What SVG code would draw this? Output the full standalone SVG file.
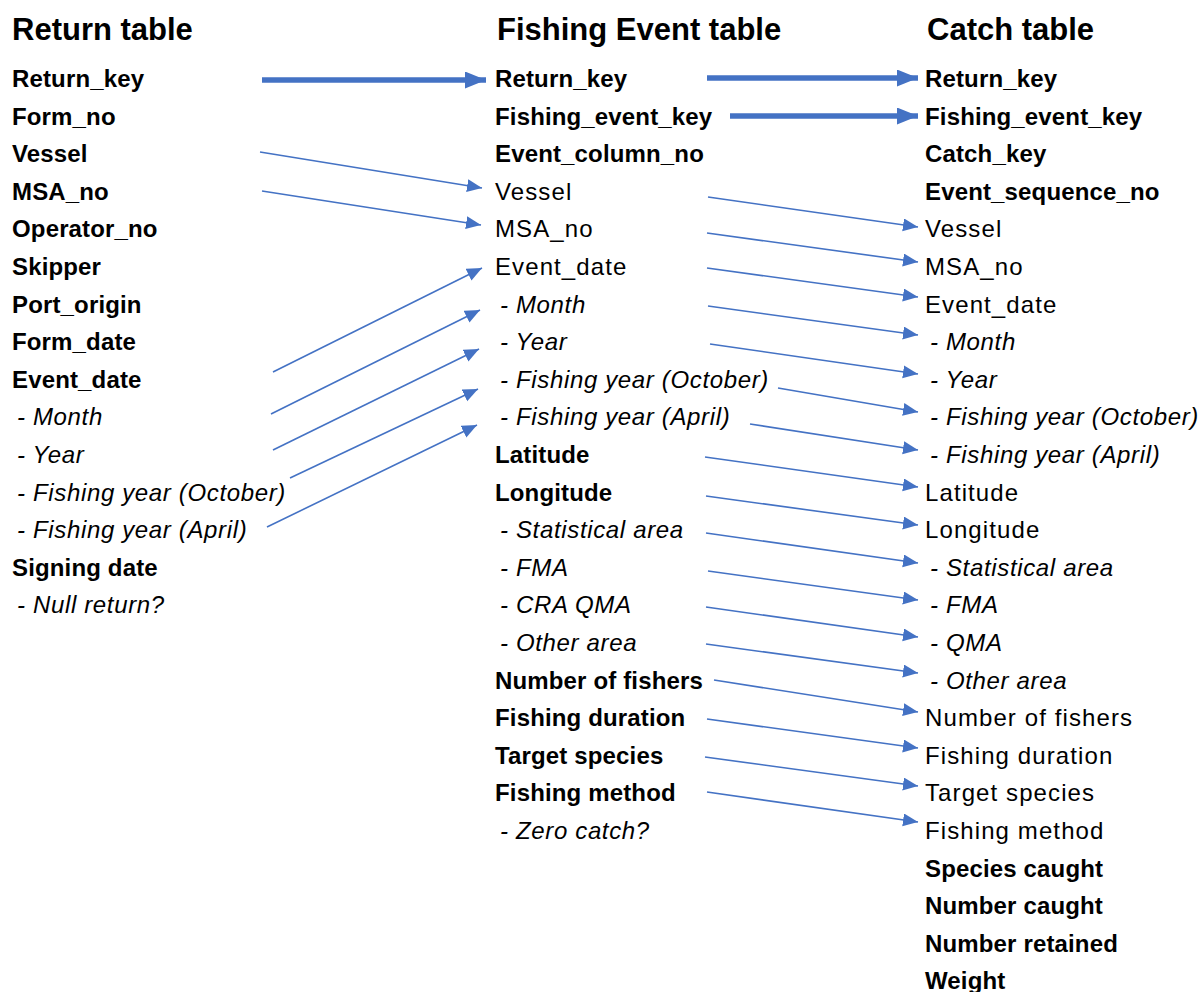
<svg xmlns="http://www.w3.org/2000/svg" width="1201" height="992" viewBox="0 0 1201 992">
<style>
text{font-family:"Liberation Sans",Arial,sans-serif;font-size:24px;fill:#000;letter-spacing:1.1px}
.t{font-size:31px;font-weight:bold;letter-spacing:0}
.b{font-weight:bold;letter-spacing:0.15px}
.i{font-style:italic;letter-spacing:0.65px}
.thin{stroke:#4472C4;stroke-width:1.6;fill:none}
.thick{stroke:#4472C4;stroke-width:5.5;fill:none}
</style>
<defs>
<marker id="ah" markerUnits="userSpaceOnUse" markerWidth="16" markerHeight="14" refX="15" refY="6.5" orient="auto"><path d="M0,0 L15,6.5 L0,13 z" fill="#4472C4"/></marker>
<marker id="ahb" markerUnits="userSpaceOnUse" markerWidth="22" markerHeight="18" refX="21" refY="8.5" orient="auto"><path d="M0,0 L21,8.5 L0,17 z" fill="#4472C4"/></marker>
</defs>
<g id="return-table">
<text class="t" x="12" y="40">Return table</text>
<text class="b" x="12" y="87">Return_key</text>
<text class="b" x="12" y="124.6">Form_no</text>
<text class="b" x="12" y="162.2">Vessel</text>
<text class="b" x="12" y="199.8">MSA_no</text>
<text class="b" x="12" y="237.4">Operator_no</text>
<text class="b" x="12" y="275">Skipper</text>
<text class="b" x="12" y="312.6">Port_origin</text>
<text class="b" x="12" y="350.2">Form_date</text>
<text class="b" x="12" y="387.8">Event_date</text>
<text class="i" x="17" y="425.4">- Month</text>
<text class="i" x="17" y="463">- Year</text>
<text class="i" x="17" y="500.6">- Fishing year (October)</text>
<text class="i" x="17" y="538.2">- Fishing year (April)</text>
<text class="b" x="12" y="575.8">Signing date</text>
<text class="i" x="17" y="613.4">- Null return?</text>
</g>
<g id="fishing-event-table">
<text class="t" x="497" y="40">Fishing Event table</text>
<text class="b" x="495" y="87">Return_key</text>
<text class="b" x="495" y="124.6">Fishing_event_key</text>
<text class="b" x="495" y="162.2">Event_column_no</text>
<text x="495" y="199.8">Vessel</text>
<text x="495" y="237.4">MSA_no</text>
<text x="495" y="275">Event_date</text>
<text class="i" x="500" y="312.6">- Month</text>
<text class="i" x="500" y="350.2">- Year</text>
<text class="i" x="500" y="387.8">- Fishing year (October)</text>
<text class="i" x="500" y="425.4">- Fishing year (April)</text>
<text class="b" x="495" y="463">Latitude</text>
<text class="b" x="495" y="500.6">Longitude</text>
<text class="i" x="500" y="538.2">- Statistical area</text>
<text class="i" x="500" y="575.8">- FMA</text>
<text class="i" x="500" y="613.4">- CRA QMA</text>
<text class="i" x="500" y="651">- Other area</text>
<text class="b" x="495" y="688.6">Number of fishers</text>
<text class="b" x="495" y="726.2">Fishing duration</text>
<text class="b" x="495" y="763.8">Target species</text>
<text class="b" x="495" y="801.4">Fishing method</text>
<text class="i" x="500" y="839">- Zero catch?</text>
</g>
<g id="catch-table">
<text class="t" x="927" y="40">Catch table</text>
<text class="b" x="925" y="87">Return_key</text>
<text class="b" x="925" y="124.6">Fishing_event_key</text>
<text class="b" x="925" y="162.2">Catch_key</text>
<text class="b" x="925" y="199.8">Event_sequence_no</text>
<text x="925" y="237.4">Vessel</text>
<text x="925" y="275">MSA_no</text>
<text x="925" y="312.6">Event_date</text>
<text class="i" x="930" y="350.2">- Month</text>
<text class="i" x="930" y="387.8">- Year</text>
<text class="i" x="930" y="425.4">- Fishing year (October)</text>
<text class="i" x="930" y="463">- Fishing year (April)</text>
<text x="925" y="500.6">Latitude</text>
<text x="925" y="538.2">Longitude</text>
<text class="i" x="930" y="575.8">- Statistical area</text>
<text class="i" x="930" y="613.4">- FMA</text>
<text class="i" x="930" y="651">- QMA</text>
<text class="i" x="930" y="688.6">- Other area</text>
<text x="925" y="726.2">Number of fishers</text>
<text x="925" y="763.8">Fishing duration</text>
<text x="925" y="801.4">Target species</text>
<text x="925" y="839">Fishing method</text>
<text class="b" x="925" y="876.6">Species caught</text>
<text class="b" x="925" y="914.2">Number caught</text>
<text class="b" x="925" y="951.8">Number retained</text>
<text class="b" x="925" y="989.4">Weight</text>
</g>
<g id="connectors">
<line class="thick" x1="262" y1="80" x2="486" y2="80" marker-end="url(#ahb)"/>
<line class="thick" x1="707" y1="78" x2="918" y2="78" marker-end="url(#ahb)"/>
<line class="thick" x1="730" y1="116" x2="918" y2="116" marker-end="url(#ahb)"/>
<line class="thin" x1="260" y1="152" x2="482" y2="188" marker-end="url(#ah)"/>
<line class="thin" x1="262" y1="191" x2="481" y2="225" marker-end="url(#ah)"/>
<line class="thin" x1="273" y1="372" x2="482" y2="268" marker-end="url(#ah)"/>
<line class="thin" x1="271" y1="414" x2="480" y2="310" marker-end="url(#ah)"/>
<line class="thin" x1="273" y1="450" x2="479" y2="349" marker-end="url(#ah)"/>
<line class="thin" x1="290" y1="478" x2="478" y2="389" marker-end="url(#ah)"/>
<line class="thin" x1="267" y1="527" x2="477" y2="425" marker-end="url(#ah)"/>
<line class="thin" x1="708" y1="197" x2="918" y2="227" marker-end="url(#ah)"/>
<line class="thin" x1="707" y1="233" x2="918" y2="262" marker-end="url(#ah)"/>
<line class="thin" x1="707" y1="268" x2="918" y2="297" marker-end="url(#ah)"/>
<line class="thin" x1="708" y1="306" x2="918" y2="335" marker-end="url(#ah)"/>
<line class="thin" x1="710" y1="344" x2="918" y2="374" marker-end="url(#ah)"/>
<line class="thin" x1="778" y1="388" x2="918" y2="412" marker-end="url(#ah)"/>
<line class="thin" x1="750" y1="424" x2="918" y2="450" marker-end="url(#ah)"/>
<line class="thin" x1="705" y1="457" x2="918" y2="487" marker-end="url(#ah)"/>
<line class="thin" x1="706" y1="496" x2="918" y2="525" marker-end="url(#ah)"/>
<line class="thin" x1="706" y1="533" x2="918" y2="563" marker-end="url(#ah)"/>
<line class="thin" x1="708" y1="571" x2="918" y2="600" marker-end="url(#ah)"/>
<line class="thin" x1="706" y1="607" x2="918" y2="637" marker-end="url(#ah)"/>
<line class="thin" x1="706" y1="644" x2="918" y2="673" marker-end="url(#ah)"/>
<line class="thin" x1="714" y1="680" x2="918" y2="712" marker-end="url(#ah)"/>
<line class="thin" x1="707" y1="719" x2="918" y2="748" marker-end="url(#ah)"/>
<line class="thin" x1="705" y1="757" x2="918" y2="786" marker-end="url(#ah)"/>
<line class="thin" x1="707" y1="792" x2="918" y2="822" marker-end="url(#ah)"/>
</g>
</svg>
